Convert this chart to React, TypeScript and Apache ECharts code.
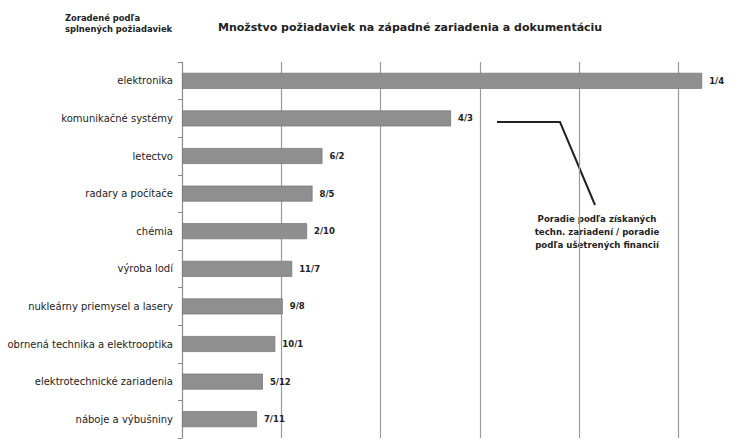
import React, { useEffect, useRef } from "react";
import * as echarts from "echarts";

const categories = [
  "elektronika",
  "komunikačné systémy",
  "letectvo",
  "radary a počítače",
  "chémia",
  "výroba lodí",
  "nukleárny priemysel a lasery",
  "obrnená technika a elektrooptika",
  "elektrotechnické zariadenia",
  "náboje a výbušniny",
];
const values = [104.8, 54.2, 28.3, 26.3, 25.2, 22.2, 20.3, 18.8, 16.3, 15.1];
const rankLabels = ["1/4", "4/3", "6/2", "8/5", "2/10", "11/7", "9/8", "10/1", "5/12", "7/11"];
const gridTicks = [20, 40, 60, 80, 100];

const titleText = "Množstvo požiadaviek na západné zariadenia a dokumentáciu";
const sortNote = ["Zoradené podľa", "splnených požiadaviek"];
const noteText = ["Poradie podľa získaných", "techn. zariadení / poradie", "podľa ušetrených financií"];

const FONT = "'DejaVu Sans', Verdana, sans-serif";

export default function App() {
  const ref = useRef<HTMLDivElement>(null);
  useEffect(() => {
    if (!ref.current) return;
    const chart = echarts.init(ref.current, null, { renderer: "svg" });
    chart.setOption({
      animation: false,
      backgroundColor: "#ffffff",
      textStyle: { fontFamily: FONT },
      grid: { left: 182, right: 0, top: 62, bottom: 1, containLabel: false },
      xAxis: {
        type: "value",
        min: 0,
        max: 110.6,
        axisLine: { show: false },
        axisTick: { show: false },
        axisLabel: { show: false },
        splitLine: { show: false },
      },
      yAxis: {
        type: "category",
        inverse: true,
        data: categories,
        axisLine: { show: true, lineStyle: { color: "#8a8a8a", width: 1.2 } },
        axisTick: { show: true, length: 4, inside: false, lineStyle: { color: "#8a8a8a" } },
        axisLabel: { color: "#222", fontSize: 10, margin: 9, fontFamily: FONT },
      },
      series: [
        {
          type: "bar",
          data: values,
          barWidth: 16,
          z: 3,
          itemStyle: { color: "#8f8f8f", borderColor: "#7a7a7a", borderWidth: 0.8 },
          label: {
            show: true,
            position: "right",
            distance: 7,
            color: "#222",
            fontSize: 8.5,
            fontWeight: "bold",
            fontFamily: FONT,
            formatter: (p: any) => rankLabels[p.dataIndex],
          },
          markLine: {
            silent: true,
            symbol: "none",
            label: { show: false },
            z: 1,
            lineStyle: { color: "#9a9a9a", width: 1.2, type: "solid" },
            data: gridTicks.map((v) => ({ xAxis: v })),
          },
        },
      ],
      graphic: [
        {
          type: "text",
          left: 65,
          top: 12,
          style: {
            text: sortNote.join("\n"),
            fontSize: 8.4,
            fontWeight: "bold",
            lineHeight: 11,
            fill: "#222",
            fontFamily: FONT,
          },
        },
        {
          type: "text",
          left: 218,
          top: 22,
          style: { text: titleText, fontSize: 11, fontWeight: "bold", fill: "#222", fontFamily: FONT },
        },
        {
          type: "polyline",
          shape: { points: [[497, 122], [560, 122], [595, 205]] },
          style: { stroke: "#222", lineWidth: 2, fill: null },
        },
        {
          type: "text",
          x: 597,
          y: 212,
          style: {
            text: noteText.join("\n"),
            fontSize: 8.6,
            fontWeight: "bold",
            lineHeight: 13,
            align: "center",
            fill: "#222",
            fontFamily: FONT,
          },
        },
      ],
    });
    return () => chart.dispose();
  }, []);
  return (
    <div
      ref={ref}
      style={{ position: "fixed", left: 0, top: 0, width: 731, height: 439, background: "#fff" }}
    />
  );
}
